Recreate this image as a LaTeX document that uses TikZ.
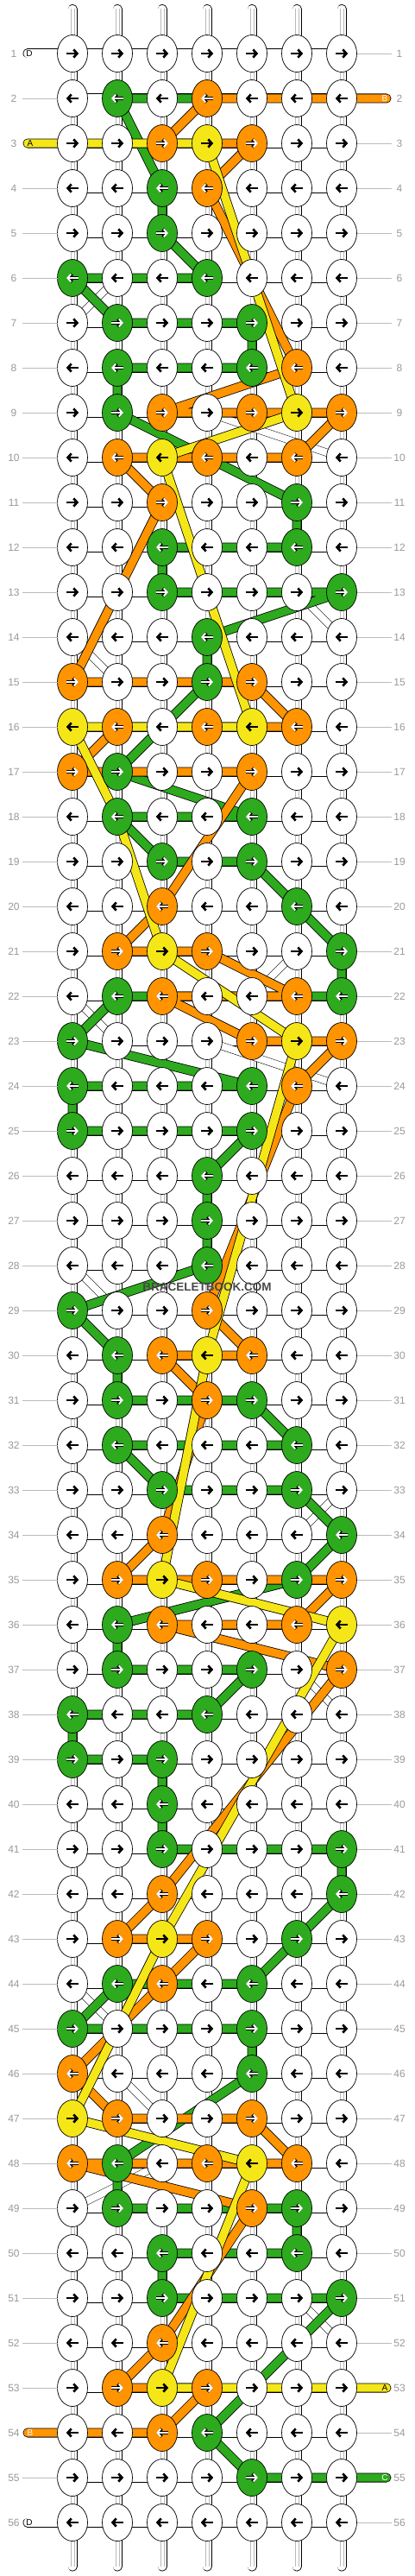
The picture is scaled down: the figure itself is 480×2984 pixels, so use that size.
\documentclass[tikz,border=0pt]{standalone}
\usepackage{fontspec}
\setmainfont{Liberation Sans}
\usetikzlibrary{arrows.meta,shapes.geometric}
\definecolor{cG}{HTML}{2DAA1E}
\definecolor{cO}{HTML}{FF9400}
\definecolor{cY}{HTML}{F5E717}
\definecolor{cW}{HTML}{FFFFFF}
\definecolor{labgray}{HTML}{999999}
\definecolor{linegray}{HTML}{BBBBBB}
\tikzset{
 knot/.style={ellipse, draw=black, line width=0.7pt, minimum width=35pt, minimum height=43pt, inner sep=0pt, outer sep=0pt},
 band/.style={line width=9.4pt, line join=round, line cap=round, preaction={draw=black, line width=11pt, line join=round, line cap=round}},
 wband/.style={band, draw=white},
 dband/.style={draw=white, line width=8pt, line cap=round, preaction={draw=black, line width=9pt, line cap=round}},
 arrtip/.style={-{Straight Barb[length=4pt,width=9pt]}},
 aoutW/.style={black, line width=2.4pt, arrtip},
 ainW/.style={black, line width=2.4pt, arrtip},
 aoutY/.style={aoutW}, ainY/.style={ainW},
 aoutG/.style={black, line width=3.6pt, arrtip},
 ainG/.style={white, line width=1.9pt, arrtip},
 aoutO/.style={aoutG}, ainO/.style={ainG},
 rowlab/.style={text=labgray, font=\fontsize{12}{12}\selectfont, inner sep=0pt},
 sideline/.style={draw=linegray, line width=0.8pt},
 endlab/.style={font=\fontsize{10}{10}\selectfont, inner sep=0pt},
 vstrand/.style={line width=11pt, line cap=round},
}
\begin{document}
\begin{tikzpicture}[x=1pt,y=-1pt]
\useasboundingbox (0,0) rectangle (480,2984);
\fill[white] (0,0) rectangle (480,2984);
% coordinates
\foreach \rr in {1,...,56}{
  \coordinate (el-\rr) at (32,{10+52*\rr});
  \coordinate (er-\rr) at (448,{10+52*\rr});
  \coordinate (gl-\rr) at (26,{10+52*\rr});
  \coordinate (gr-\rr) at (454,{10+52*\rr});
  \foreach \cc in {1,...,7}{\coordinate (k-\rr-\cc) at ({32+52*\cc},{10+52*\rr});}
}
% vertical strands
\foreach \cc in {1,...,7}{
  \coordinate (vt-\cc) at ({32+52*\cc},10.5);
  \coordinate (vb-\cc) at ({32+52*\cc},2973);
  \draw[vstrand, black] (vt-\cc) -- (vb-\cc);
  \draw[vstrand, white, line width=9.4pt] (vt-\cc) -- (vb-\cc);
  \draw[gray!55, line width=0.5pt] ([xshift=-2.2pt]vt-\cc) -- ([xshift=-2.2pt]vb-\cc);
  \draw[gray!55, line width=0.5pt] ([xshift=2.2pt]vt-\cc) -- ([xshift=2.2pt]vb-\cc);
}
% horizontal white strands
\foreach \rr in {1,...,56}{ \draw[wband] (k-\rr-1) -- (k-\rr-7); }
\draw[wband] (el-1) -- (k-1-1);
\draw[wband] (el-56) -- (k-56-1);
% diagonal white strands
\foreach \a/\b in {6-2/7-1, 9-4/10-7, 13-6/14-7, 14-1/15-2, 21-6/22-5, 22-1/23-2, 23-4/24-7, 28-1/29-2, 33-7/34-6, 37-6/38-7, 44-1/45-2, 46-2/47-3, 48-3/49-1, 51-6/52-7}{
  \draw[dband] (k-\a) -- (k-\b);
}
% green string
\draw[band, draw=cG] (k-2-4) -- (k-2-2) -- (k-4-3) -- (k-5-3) -- (k-6-4) -- (k-6-1) -- (k-7-2) -- (k-7-5) -- (k-8-5) -- (k-8-2) -- (k-9-2) -- (k-10-4) -- (k-11-6) -- (k-12-6) -- (k-12-3) -- (k-13-3) -- (k-13-7) -- (k-14-4) -- (k-15-4) -- (k-17-2) -- (k-18-5) -- (k-18-2) -- (k-19-3) -- (k-19-5) -- (k-21-7) -- (k-22-7) -- (k-22-2) -- (k-23-1) -- (k-24-5) -- (k-24-1) -- (k-25-1) -- (k-25-5) -- (k-26-4) -- (k-28-4) -- (k-29-1) -- (k-30-2) -- (k-31-2) -- (k-31-5) -- (k-32-6) -- (k-32-2) -- (k-33-3) -- (k-33-6) -- (k-34-7) -- (k-35-6) -- (k-36-2) -- (k-37-2) -- (k-37-5) -- (k-38-4) -- (k-38-1) -- (k-39-1) -- (k-39-3) -- (k-41-3) -- (k-41-7) -- (k-42-7) -- (k-44-5) -- (k-44-2) -- (k-45-1) -- (k-45-5) -- (k-46-5) -- (k-48-2) -- (k-49-2) -- (k-49-6) -- (k-50-6) -- (k-50-3) -- (k-51-3) -- (k-51-7) -- (k-54-4) -- (k-55-5) -- (er-55);
% orange string
\draw[band, draw=cO] (er-2) -- (k-2-4) -- (k-3-3) -- (k-3-5) -- (k-4-4) -- (k-8-6) -- (k-9-3) -- (k-9-7) -- (k-10-6) -- (k-10-2) -- (k-11-3) -- (k-15-1) -- (k-15-5) -- (k-16-6) -- (k-16-2) -- (k-17-1) -- (k-17-5) -- (k-20-3) -- (k-21-2) -- (k-21-4) -- (k-22-6) -- (k-22-3) -- (k-23-5) -- (k-23-7) -- (k-24-6) -- (k-29-4) -- (k-30-5) -- (k-30-3) -- (k-31-4) -- (k-34-3) -- (k-35-2) -- (k-35-7) -- (k-36-6) -- (k-36-3) -- (k-37-7) -- (k-42-3) -- (k-43-2) -- (k-43-4) -- (k-44-3) -- (k-46-1) -- (k-47-2) -- (k-47-5) -- (k-48-6) -- (k-48-1) -- (k-49-5) -- (k-52-3) -- (k-53-2) -- (k-53-4) -- (k-54-3) -- (el-54);
% yellow string
\draw[band, draw=cY] (el-3) -- (k-3-4) -- (k-9-6) -- (k-10-3) -- (k-16-5) -- (k-16-1) -- (k-18-2) -- (k-21-3) -- (k-23-6) -- (k-30-4) -- (k-35-3) -- (k-36-7) -- (k-43-3) -- (k-47-1) -- (k-48-5) -- (k-53-3) -- (er-53);
% knots
\foreach \rr/\row in {1/{W,W,W,W,W,W,W},2/{W,G,W,O,W,W,W},3/{W,W,O,Y,O,W,W},4/{W,W,G,O,W,W,W},5/{W,W,G,W,W,W,W},6/{G,W,W,G,W,W,W},7/{W,G,W,W,G,W,W},8/{W,G,W,W,G,O,W},9/{W,G,O,W,O,Y,O},10/{W,O,Y,O,W,O,W},11/{W,W,O,W,W,G,W},12/{W,W,G,W,W,G,W},13/{W,W,G,W,W,W,G},14/{W,W,W,G,W,W,W},15/{O,W,W,G,O,W,W},16/{Y,O,W,O,Y,O,W},17/{O,G,W,W,O,W,W},18/{W,G,W,W,G,W,W},19/{W,W,G,W,G,W,W},20/{W,W,O,W,W,G,W},21/{W,O,Y,O,W,W,G},22/{W,G,O,W,W,O,G},23/{G,W,W,W,O,Y,O},24/{G,W,W,W,G,O,W},25/{G,W,W,W,G,W,W},26/{W,W,W,G,W,W,W},27/{W,W,W,G,W,W,W},28/{W,W,W,G,W,W,W},29/{G,W,W,O,W,W,W},30/{W,G,O,Y,O,W,W},31/{W,G,W,O,G,W,W},32/{W,G,W,W,W,G,W},33/{W,W,G,W,W,G,W},34/{W,W,O,W,W,W,G},35/{W,O,Y,O,W,G,O},36/{W,G,O,W,W,O,Y},37/{W,G,W,W,G,W,O},38/{G,W,W,G,W,W,W},39/{G,W,G,W,W,W,W},40/{W,W,G,W,W,W,W},41/{W,W,G,W,W,W,G},42/{W,W,O,W,W,W,G},43/{W,O,Y,O,W,G,W},44/{W,G,O,W,G,W,W},45/{G,W,W,W,G,W,W},46/{O,W,W,W,G,W,W},47/{Y,O,W,W,O,W,W},48/{O,G,W,O,Y,O,W},49/{W,G,W,W,O,G,W},50/{W,W,G,W,W,G,W},51/{W,W,G,W,W,W,G},52/{W,W,O,W,W,W,W},53/{W,O,Y,O,W,W,W},54/{W,W,O,G,W,W,W},55/{W,W,W,W,G,W,W},56/{W,W,W,W,W,W,W}}{
  \ifodd\rr \def\sx{-7}\def\ex{14}\else\def\sx{7}\def\ex{-14}\fi
  \foreach \kk [count=\cc] in \row {
    \node[knot, fill=c\kk] (n-\rr-\cc) at (k-\rr-\cc) {};
    \draw[aout\kk] (k-\rr-\cc) ++(\sx,0) -- ++(\ex,0);
    \draw[ain\kk] (k-\rr-\cc) ++(\sx,0) -- ++(\ex,0);
  }
  \node[rowlab] (ll-\rr) at (16,{10+52*\rr}) {\rr};
  \node[rowlab] (rl-\rr) at (463,{10+52*\rr}) {\rr};
}
% side lines
\foreach \rr in {2,4,5,...,53,55}{ \draw[sideline] (gl-\rr) -- (n-\rr-1.west); }
\foreach \rr in {1,3,4,...,52,54,56}{ \draw[sideline] (n-\rr-7.east) -- (gr-\rr); }
% end labels
\node[endlab] (lD1) at (34,62) {D};
\node[endlab] (lA3) at (35,166) {A};
\node[endlab, text=white] (lB2) at (446,114) {B};
\node[endlab] (lA53) at (446,2766) {A};
\node[endlab, text=white] (lB54) at (35,2818) {B};
\node[endlab, text=white] (lC55) at (446,2870) {C};
\node[endlab] (lD56) at (34,2922) {D};
% watermark
\node[font=\bfseries\fontsize{13.5}{14}\selectfont, text=black!72, inner sep=0pt] (wm) at (240,1491) {BRACELETBOOK.COM};
\end{tikzpicture}
\end{document}
